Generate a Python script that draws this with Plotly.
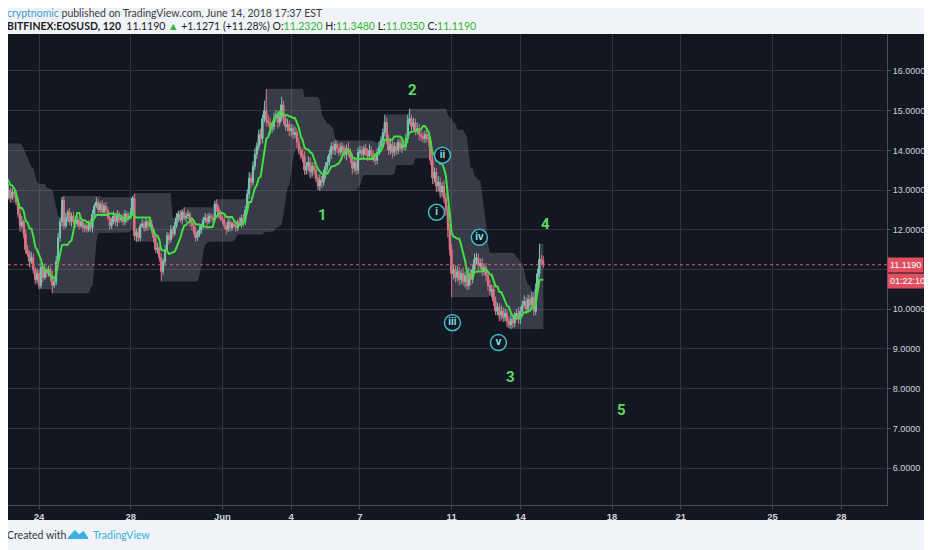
import pandas as pd
import plotly.graph_objects as go

# BITFINEX:EOSUSD, 2h bars. First 12 bars sit left of the visible window
# (they only feed the channel / conversion line).
first_bar = "2018-05-21 12:00"

closes = [
    13.9, 14.05, 13.95, 13.8, 13.75, 13.6, 13.45, 13.5, 13.3, 13.15, 13.05, 12.95,   # May 21-22 (hidden)
    12.9, 12.85, 13.0, 12.8, 12.95, 12.9,                                            # May 22 pm
    12.7, 12.4, 12.1, 12.2, 11.9, 11.5, 11.4, 11.2, 11.3, 11.0, 10.75, 10.9,         # May 23
    10.6, 11.05, 10.8, 11.0, 10.9, 11.0, 10.85, 10.6, 10.7, 11.2, 11.8, 12.2,        # May 24
    12.75, 12.1, 12.3, 12.45, 12.2, 12.35, 12.2, 12.15, 12.25, 12.1, 12.2, 12.05,    # May 25
    12.1, 12.0, 12.15, 12.05, 12.4, 12.6, 12.7, 12.5, 12.65, 12.45, 12.6, 12.5,      # May 26
    12.3, 12.1, 12.2, 12.35, 12.2, 12.4, 12.25, 12.3, 12.2, 12.4, 12.3, 12.35,       # May 27
    12.45, 12.8, 11.85, 11.95, 11.8, 12.1, 12.15, 12.05, 12.2, 12.1, 12.15, 12.0,    # May 28
    11.8, 11.5, 11.55, 11.3, 10.95, 11.2, 11.5, 11.85, 11.75, 12.0, 11.9, 12.1,      # May 29
    12.3, 12.4, 12.25, 12.45, 12.3, 12.35, 12.4, 12.2, 12.1, 11.95, 11.8, 11.9,      # May 30
    12.0, 12.1, 12.25, 12.3, 12.2, 12.35, 12.3, 12.25, 12.65, 12.55, 12.4, 12.3,     # May 31
    12.25, 12.1, 12.0, 12.2, 12.05, 12.15, 12.1, 12.05, 12.2, 12.15, 12.3, 12.2,     # Jun 1
    12.5, 12.9, 13.3, 13.2, 13.6, 13.9, 14.1, 14.4, 14.3, 14.8, 15.0, 14.75,         # Jun 2
    14.7, 14.55, 14.6, 14.8, 14.9, 14.7, 14.85, 15.15, 14.8, 14.6, 14.65, 14.5,      # Jun 3
    14.55, 14.4, 14.45, 14.2, 14.0, 13.9, 13.85, 13.5, 13.6, 13.7, 13.45, 13.6,      # Jun 4
    13.5, 13.3, 13.1, 13.25, 13.2, 13.4, 13.6, 13.7, 13.9, 14.1, 14.0, 14.15,        # Jun 5
    14.05, 13.95, 14.1, 14.0, 13.9, 14.05, 13.95, 13.8, 13.55, 13.7, 13.5, 13.95,    # Jun 6
    14.0, 13.9, 14.05, 13.95, 13.85, 14.0, 13.9, 13.8, 13.75, 13.95, 14.1, 14.25,    # Jun 7
    14.45, 14.7, 14.3, 14.0, 14.15, 13.95, 14.1, 14.0, 14.2, 14.05, 14.15, 14.1,     # Jun 8
    14.3, 14.75, 14.8, 14.6, 14.7, 14.5, 14.55, 14.4, 14.35, 14.3, 14.4, 14.3,       # Jun 9
    14.25, 13.75, 13.3, 13.45, 13.1, 13.2, 12.95, 13.1, 12.8, 12.5, 12.0, 11.5,      # Jun 10
    10.9, 11.0, 10.8, 10.95, 10.75, 10.9, 10.7, 10.85, 10.6, 10.9, 10.75, 11.0,      # Jun 11
    11.25, 11.3, 11.1, 11.15, 10.95, 11.05, 10.85, 10.6, 10.45, 10.5, 10.2, 9.95,    # Jun 12
    10.05, 9.85, 9.95, 9.8, 9.9, 9.7, 9.6, 9.75, 9.65, 9.8, 9.9, 9.75,               # Jun 13
    9.95, 10.1, 10.2, 10.0, 10.25, 10.1, 10.3, 9.95, 10.5, 10.9, 11.25, 11.232,      # Jun 14
    11.119,                                                                          # Jun 15
]

# wick lengths above / below the candle body
wick_up = [
    0.25, 0.12, 0.1, 0.08, 0.1, 0.06, 0.1, 0.08, 0.05, 0.1, 0.06, 0.08,
    0.12, 0.08, 0.15, 0.06, 0.1, 0.08,
    0.1, 0.08, 0.12, 0.15, 0.06, 0.1, 0.12, 0.08, 0.15, 0.1, 0.06, 0.12,
    0.1, 0.12, 0.08, 0.15, 0.06, 0.1, 0.08, 0.12, 0.1, 0.15, 0.12, 0.1,
    0.08, 0.1, 0.12, 0.06, 0.1, 0.08, 0.12, 0.06, 0.1, 0.08, 0.12, 0.06,
    0.06, 0.1, 0.08, 0.12, 0.1, 0.06, 0.12, 0.08, 0.06, 0.1, 0.08, 0.1,
    0.08, 0.06, 0.1, 0.12, 0.08, 0.1, 0.06, 0.08, 0.12, 0.1, 0.06, 0.08,
    0.1, 0.05, 0.12, 0.08, 0.1, 0.06, 0.12, 0.08, 0.1, 0.06, 0.08, 0.1,
    0.08, 0.1, 0.12, 0.06, 0.1, 0.08, 0.12, 0.1, 0.08, 0.12, 0.06, 0.1,
    0.12, 0.08, 0.1, 0.06, 0.12, 0.08, 0.1, 0.06, 0.08, 0.1, 0.12, 0.08,
    0.1, 0.06, 0.08, 0.12, 0.1, 0.08, 0.06, 0.1, 0.08, 0.12, 0.06, 0.1,
    0.06, 0.1, 0.08, 0.1, 0.12, 0.06, 0.08, 0.1, 0.06, 0.12, 0.08, 0.1,
    0.1, 0.12, 0.15, 0.1, 0.12, 0.15, 0.1, 0.12, 0.15, 0.1, 0.25, 0.55,
    0.15, 0.12, 0.1, 0.15, 0.12, 0.1, 0.15, 0.2, 0.1, 0.12, 0.15, 0.1,
    0.12, 0.1, 0.15, 0.1, 0.12, 0.1, 0.15, 0.12, 0.1, 0.15, 0.12, 0.1,
    0.1, 0.12, 0.08, 0.15, 0.1, 0.12, 0.1, 0.15, 0.12, 0.1, 0.12, 0.1,
    0.1, 0.12, 0.1, 0.08, 0.12, 0.1, 0.15, 0.1, 0.12, 0.1, 0.08, 0.12,
    0.12, 0.1, 0.08, 0.12, 0.1, 0.15, 0.1, 0.08, 0.12, 0.1, 0.12, 0.1,
    0.1, 0.2, 0.12, 0.1, 0.15, 0.1, 0.12, 0.1, 0.08, 0.12, 0.1, 0.12,
    0.12, 0.15, 0.25, 0.1, 0.12, 0.1, 0.15, 0.12, 0.1, 0.12, 0.1, 0.12,
    0.12, 0.1, 0.15, 0.12, 0.1, 0.15, 0.12, 0.1, 0.15, 0.12, 0.1, 0.15,
    0.15, 0.12, 0.1, 0.15, 0.12, 0.1, 0.15, 0.1, 0.12, 0.15, 0.1, 0.12,
    0.15, 0.12, 0.1, 0.12, 0.15, 0.1, 0.12, 0.1, 0.15, 0.12, 0.1, 0.12,
    0.12, 0.1, 0.15, 0.1, 0.12, 0.1, 0.12, 0.15, 0.1, 0.12, 0.1, 0.15,
    0.1, 0.12, 0.15, 0.1, 0.12, 0.1, 0.15, 0.12, 0.15, 0.12, 0.4, 0.12,
    0.116,
]
wick_dn = [
    0.08, 0.1, 0.06, 0.1, 0.08, 0.1, 0.05, 0.1, 0.08, 0.06, 0.1, 0.08,
    0.1, 0.06, 0.08, 0.12, 0.05, 0.1,
    0.08, 0.1, 0.15, 0.06, 0.12, 0.1, 0.08, 0.15, 0.06, 0.1, 0.12, 0.08,
    0.1, 0.08, 0.12, 0.06, 0.1, 0.08, 0.15, 0.2, 0.06, 0.1, 0.12, 0.1,
    0.12, 0.1, 0.06, 0.1, 0.08, 0.12, 0.06, 0.1, 0.08, 0.1, 0.06, 0.12,
    0.1, 0.08, 0.06, 0.1, 0.12, 0.08, 0.06, 0.1, 0.08, 0.12, 0.06, 0.1,
    0.06, 0.1, 0.08, 0.06, 0.1, 0.12, 0.08, 0.06, 0.1, 0.08, 0.12, 0.06,
    0.08, 0.1, 0.12, 0.15, 0.1, 0.08, 0.06, 0.1, 0.08, 0.12, 0.06, 0.1,
    0.12, 0.08, 0.1, 0.1, 0.25, 0.08, 0.1, 0.06, 0.12, 0.08, 0.1, 0.06,
    0.06, 0.1, 0.08, 0.12, 0.06, 0.1, 0.08, 0.12, 0.1, 0.06, 0.1, 0.08,
    0.08, 0.1, 0.06, 0.08, 0.12, 0.06, 0.1, 0.08, 0.06, 0.1, 0.12, 0.08,
    0.1, 0.08, 0.12, 0.06, 0.1, 0.08, 0.06, 0.1, 0.08, 0.06, 0.1, 0.12,
    0.08, 0.1, 0.12, 0.15, 0.08, 0.1, 0.12, 0.1, 0.15, 0.12, 0.1, 0.15,
    0.1, 0.15, 0.12, 0.1, 0.08, 0.15, 0.1, 0.12, 0.15, 0.1, 0.12, 0.15,
    0.15, 0.12, 0.1, 0.15, 0.1, 0.12, 0.15, 0.12, 0.1, 0.12, 0.15, 0.1,
    0.12, 0.1, 0.1, 0.12, 0.15, 0.1, 0.12, 0.1, 0.08, 0.12, 0.1, 0.12,
    0.12, 0.1, 0.08, 0.12, 0.1, 0.15, 0.1, 0.12, 0.15, 0.1, 0.12, 0.1,
    0.1, 0.12, 0.1, 0.08, 0.12, 0.1, 0.15, 0.1, 0.12, 0.1, 0.08, 0.12,
    0.12, 0.1, 0.15, 0.12, 0.1, 0.15, 0.1, 0.12, 0.1, 0.08, 0.12, 0.1,
    0.1, 0.12, 0.1, 0.15, 0.1, 0.12, 0.1, 0.15, 0.12, 0.1, 0.12, 0.1,
    0.15, 0.12, 0.15, 0.1, 0.15, 0.12, 0.15, 0.1, 0.12, 0.15, 0.2, 0.15,
    0.6, 0.15, 0.12, 0.1, 0.15, 0.12, 0.1, 0.15, 0.12, 0.1, 0.15, 0.1,
    0.1, 0.12, 0.15, 0.1, 0.12, 0.1, 0.15, 0.12, 0.1, 0.15, 0.12, 0.1,
    0.1, 0.15, 0.1, 0.12, 0.1, 0.15, 0.08, 0.1, 0.12, 0.1, 0.08, 0.12,
    0.12, 0.1, 0.08, 0.12, 0.1, 0.15, 0.1, 0.12, 0.1, 0.08, 0.1, 0.12,
    0.084,
]
first_open = 13.85

# x tick dates and their labels
tick_dates = ["2018-05-24", "2018-05-28", "2018-06-01", "2018-06-04", "2018-06-07",
              "2018-06-11", "2018-06-14", "2018-06-18", "2018-06-21", "2018-06-25",
              "2018-06-28"]
tick_text = ["24", "28", "Jun", "4", "7", "11", "14", "18", "21", "25", "28"]
price_ticks = [6, 7, 8, 9, 10, 11, 12, 13, 14, 15, 16]
# the 11.0000 label sits under the last-price tag
price_text = ["" if p == 11 else f"{p:.4f}" for p in price_ticks]

# wave counts drawn on the chart
wave_labels = ["1", "2", "3", "4", "5"]
wave_times = ["2018-06-05 08:40", "2018-06-09 07:00", "2018-06-13 13:40",
              "2018-06-15 02:20", "2018-06-18 10:00"]
wave_prices = [12.36, 15.52, 8.30, 12.14, 7.46]

sub_labels = ["ii", "i", "iv", "iii", "v"]
sub_times = ["2018-06-10 14:20", "2018-06-10 08:10", "2018-06-12 05:00",
             "2018-06-11 00:50", "2018-06-13 01:00"]
sub_prices = [13.88, 12.44, 11.81, 9.66, 9.16]

# -------------------------------------------------
# OHLC + indicators
# -------------------------------------------------
df = pd.DataFrame({"close": closes})
df["time"] = pd.date_range(first_bar, periods=len(df), freq="2h")
df["open"] = df["close"].shift(1).fillna(first_open)
df["high"] = df[["open", "close"]].max(axis=1) + pd.Series(wick_up)
df["low"] = df[["open", "close"]].min(axis=1) - pd.Series(wick_dn)

df["upper"] = df["high"].rolling(20, min_periods=1).max()
df["lower"] = df["low"].rolling(20, min_periods=1).min()
df["conv"] = (df["high"].rolling(9, min_periods=1).max()
              + df["low"].rolling(9, min_periods=1).min()) / 2

df["body_lo"] = df[["open", "close"]].min(axis=1)
df["body_h"] = (df["close"] - df["open"]).abs().clip(lower=0.03)
up = df[df["close"] >= df["open"]]
dn = df[df["close"] < df["open"]]

BG = "#131722"
GRID = "#2f333e"
UP = "#6cc2a8"
DOWN = "#e35d6d"
LINE_GREEN = "#3fe03f"
BAR_MS = 2 * 3600 * 1000 * 0.72

fig = go.Figure()

fig.add_trace(go.Scatter(x=df["time"], y=df["upper"], mode="lines",
                         line=dict(width=0), hoverinfo="skip"))
fig.add_trace(go.Scatter(x=df["time"], y=df["lower"], mode="lines",
                         line=dict(width=0), fill="tonexty",
                         fillcolor="rgba(175,180,195,0.24)", hoverinfo="skip"))

# wicks
fig.add_trace(go.Candlestick(
    x=df["time"], open=df["open"], high=df["high"], low=df["low"], close=df["close"],
    increasing=dict(line=dict(color=UP, width=1), fillcolor=UP),
    decreasing=dict(line=dict(color=DOWN, width=1), fillcolor=DOWN),
    whiskerwidth=0, hoverinfo="skip"
))
# bodies
fig.add_trace(go.Bar(x=up["time"], y=up["body_h"], base=up["body_lo"], width=BAR_MS,
                     marker=dict(color=UP, line=dict(width=0)), hoverinfo="skip"))
fig.add_trace(go.Bar(x=dn["time"], y=dn["body_h"], base=dn["body_lo"], width=BAR_MS,
                     marker=dict(color=DOWN, line=dict(width=0)), hoverinfo="skip"))

fig.add_trace(go.Scatter(x=df["time"], y=df["conv"], mode="lines",
                         line=dict(color=LINE_GREEN, width=2), hoverinfo="skip"))

fig.add_trace(go.Scatter(
    x=sub_times, y=sub_prices, mode="markers+text",
    text=[f"<b>{s}</b>" for s in sub_labels],
    textposition="middle center",
    textfont=dict(family="Liberation Sans", size=10, color="#8ee3ea"),
    marker=dict(size=16, color=BG, line=dict(color="#3fbccb", width=1.5)),
    hoverinfo="skip"
))

for lab, t, p in zip(wave_labels, wave_times, wave_prices):
    fig.add_annotation(x=t, y=p, text=f"<b>{lab}</b>", showarrow=False,
                       font=dict(family="Roboto", size=15, color="#5edc5e"))

# current price line + axis labels
last_close = closes[-1]
fig.add_shape(type="line", xref="paper", x0=0, x1=1, y0=last_close, y1=last_close,
              line=dict(color="#e25c6c", width=1, dash="dot"))
fig.add_annotation(xref="paper", x=1.0, y=last_close, text=f"{last_close:.4f}",
                   xanchor="left", showarrow=False, bgcolor="#e04f5f",
                   font=dict(family="Liberation Sans", size=9, color="white"),
                   borderpad=2)
fig.add_annotation(xref="paper", x=1.0, y=last_close, yshift=-16, text="01:22:10",
                   xanchor="left", showarrow=False, bgcolor="#e04f5f",
                   font=dict(family="Liberation Sans", size=9, color="white"),
                   borderpad=2)

# dark panel behind plot + axes
fig.add_shape(type="rect", xref="paper", yref="paper", x0=-0.004, x1=1.0466,
              y0=-0.0318, y1=1.0, fillcolor=BG, line=dict(width=0), layer="below")

# -------------------------------------------------
# HEADER / FOOTER TEXT
# -------------------------------------------------
fig.add_annotation(
    xref="paper", yref="paper", x=-0.003, y=1.045, xanchor="left", yanchor="middle",
    showarrow=False, align="left",
    text="<span style='color:#3d9fd8'>cryptnomic</span> published on TradingView.com, June 14, 2018 17:37 EST",
    font=dict(family="Lato", size=10.5, color="#3c3c3c"))
fig.add_annotation(
    xref="paper", yref="paper", x=-0.003, y=1.0180, xanchor="left", yanchor="middle",
    showarrow=False, align="left",
    text=("<b>BITFINEX:EOSUSD, 120</b>  11.1190 <span style='color:#2eb82e'>▲</span>"
          " +1.1271 (+11.28%) O:<span style='color:#2eb82e'>11.2320</span>"
          " H:<span style='color:#2eb82e'>11.3480</span>"
          " L:<span style='color:#2eb82e'>11.0350</span>"
          " C:<span style='color:#2eb82e'>11.1190</span>"),
    font=dict(family="Lato", size=10.5, color="#1e1e1e"))
fig.add_annotation(
    xref="paper", yref="paper", x=-0.003, y=-0.0637, xanchor="left", yanchor="middle",
    showarrow=False, text="Created with", font=dict(family="Lato", size=10.5, color="#333333"))
fig.add_annotation(
    xref="paper", yref="paper", x=0.0945, y=-0.0637, xanchor="left", yanchor="middle",
    showarrow=False, text="TradingView", font=dict(family="Lato", size=10.5, color="#3bb0e0"))
# small logo mark
fig.add_shape(type="path", xref="paper", yref="paper",
              path="M 0.068 -0.071 L 0.076 -0.054 L 0.081 -0.063 L 0.086 -0.056 L 0.091 -0.071 Z",
              fillcolor="#3bb0e0", line=dict(color="#3bb0e0", width=1))

# -------------------------------------------------
# LAYOUT  (page body adds an 8px margin, so the figure is 16px smaller)
# -------------------------------------------------
fig.update_layout(
    width=924, height=542,
    margin=dict(l=0, r=45, t=26, b=45),
    paper_bgcolor="#f0f3f8",
    plot_bgcolor=BG,
    showlegend=False,
    barmode="overlay",
    xaxis=dict(
        range=["2018-05-22 15:30", "2018-06-29 23:50"],
        rangeslider=dict(visible=False),
        tickvals=tick_dates, ticktext=[f"<b>{t}</b>" for t in tick_text],
        showgrid=True, gridcolor=GRID, gridwidth=1,
        showline=True, linecolor="#4a4e59", linewidth=1,
        ticks="outside", ticklen=3, tickcolor="#4a4e59",
        tickfont=dict(family="Liberation Sans", size=9.5, color="#d1d4dc"),
        zeroline=False, fixedrange=True,
    ),
    yaxis=dict(
        side="right", range=[5.07, 16.93],
        tickvals=price_ticks, ticktext=price_text,
        showgrid=True, gridcolor=GRID, gridwidth=1,
        showline=True, linecolor="#4a4e59", linewidth=1,
        ticks="outside", ticklen=3, tickcolor="#4a4e59",
        tickfont=dict(family="Liberation Sans", size=9, color="#d1d4dc"),
        zeroline=False, fixedrange=True,
    ),
)

fig.write_html("out.html")
